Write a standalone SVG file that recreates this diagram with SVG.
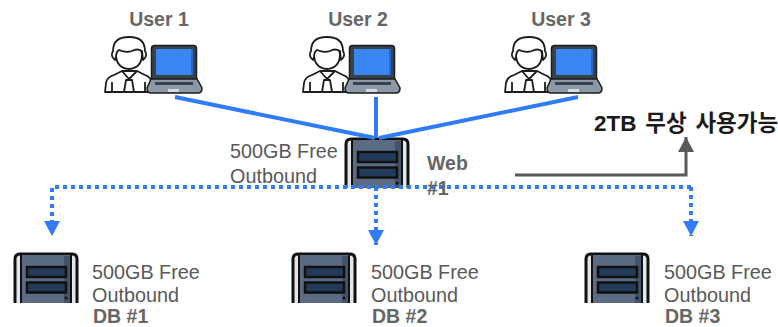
<svg xmlns="http://www.w3.org/2000/svg" width="778" height="327" viewBox="0 0 778 327">
<style>
.t{font-family:"Liberation Sans",Arial,sans-serif;font-size:19.8px;fill:#595959}
.b{font-family:"Liberation Sans",Arial,sans-serif;font-size:19.500px;font-weight:bold;fill:#666}
.k{font-family:"Liberation Sans","Noto Sans CJK KR",sans-serif;font-size:22.5px;font-weight:bold;fill:#1a1a1a;word-spacing:2.500px}
.solid{fill:none;stroke:#2f7bfa;stroke-width:4}
.dot{fill:none;stroke:#2f7bfa;stroke-width:4;stroke-dasharray:4 4}
.ol{stroke:#1c1c1c;stroke-width:1.8;stroke-linejoin:round}
</style>
<defs>
<marker id="blue" markerUnits="userSpaceOnUse" markerWidth="16" markerHeight="16" refX="15" refY="8" orient="auto"><path d="M0 0L15 8L0 16Z" fill="#2f7bfa"/></marker>
<marker id="gray" markerUnits="userSpaceOnUse" markerWidth="16" markerHeight="16" refX="15" refY="8" orient="auto"><path d="M0 0L15 8L0 16Z" fill="#595959"/></marker>
<symbol id="user" overflow="visible">
<path class="ol" d="M1 56L2 47Q3 41 10 39L18 35L33 35L41 39Q47 41 48 47L48 56Z" fill="#fff"/>
<path class="ol" d="M12 18Q12 32 25 33Q38 32 38 18Q38 10 25 10Q12 10 12 18Z" fill="#fff"/>
<path class="ol" d="M11 24Q6 20 9 15Q9 1 25 1Q41 1 41 15Q44 20 39 24L38 15Q33 12 28 15Q22 17 15 14Q12 16 12 21Z" fill="#fff"/>
<path class="ol" d="M18 35L25 43L33 35M22 44L28 44L30 56L20 56Z M8 46L8 56M41 46L41 56" fill="none"/>
<rect x="47.500" y="9.500" width="45" height="36" rx="3" fill="#38424e" stroke="#1c1c1c" stroke-width="1.500"/>
<rect x="52" y="13" width="37" height="26" fill="#3a86f2"/>
<rect x="87" y="13" width="2" height="26" fill="#2768c9"/>
<path d="M47 43L93 43L98 52Q98 57 94 57L47 57Q43 57 43 52Z" fill="#8d99a6" stroke="#1c1c1c" stroke-width="1.500"/>
<rect x="51" y="46" width="38" height="3" fill="#38424e"/>
<rect x="64" y="53" width="11" height="3" fill="#d5dae0"/>
</symbol>
<symbol id="server" overflow="visible">
<path d="M2 51L2 7Q2 2 7 2L59 2Q64 2 64 7L64 51" fill="#e3e6ea" stroke="#111" stroke-width="3"/>
<path d="M8 51L8 3L58 3L58 51Z" fill="#5a6b83"/>
<path d="M8 51L8 3M58 3L58 51" fill="none" stroke="#111" stroke-width="2"/>
<rect x="51" y="4" width="6" height="47" fill="#44536a"/>
<rect x="14" y="15" width="39" height="10" fill="#233a58" stroke="#111" stroke-width="2.500"/>
<rect x="14" y="30.500" width="39" height="10" fill="#233a58" stroke="#111" stroke-width="2.500"/>
<circle cx="53" cy="46" r="1.500" fill="#111"/>
</symbol>
</defs>

<g id="web1"><use href="#server" x="344" y="137"/></g>

<g id="connectors">
<path class="solid" d="M175 97L375 138"/>
<path class="solid" d="M376 97L376 138"/>
<path class="solid" d="M578 97L379 138"/>
<path class="dot" d="M691 187L52 187L52 236" marker-end="url(#blue)"/>
<path class="dot" d="M376 187L376 245" marker-end="url(#blue)"/>
<path class="dot" d="M691 187L691 236" marker-end="url(#blue)"/>
<path d="M515 175L686 175L686 137" fill="none" stroke="#595959" stroke-width="3" marker-end="url(#gray)"/>
</g>

<g id="user1"><text class="b" x="159" y="26" text-anchor="middle">User 1</text><use href="#user" x="104" y="36"/></g>
<g id="user2"><text class="b" x="358" y="26" text-anchor="middle">User 2</text><use href="#user" x="302" y="36"/></g>
<g id="user3"><text class="b" x="561" y="26" text-anchor="middle">User 3</text><use href="#user" x="504" y="36"/></g>

<g id="web1-labels">
<text class="t" x="230" y="158">500GB Free</text><text class="t" x="230" y="183">Outbound</text>
<text class="b" x="427" y="170">Web</text><text class="b" x="427" y="195">#1</text></g>

<g id="db1"><use href="#server" x="13" y="252"/>
<text class="t" x="92" y="279">500GB Free</text><text class="t" x="92" y="302">Outbound</text><text class="b" x="93" y="323">DB #1</text></g>
<g id="db2"><use href="#server" x="291" y="252"/>
<text class="t" x="371" y="279">500GB Free</text><text class="t" x="371" y="302">Outbound</text><text class="b" x="372" y="323">DB #2</text></g>
<g id="db3"><use href="#server" x="584" y="252"/>
<text class="t" x="664" y="279">500GB Free</text><text class="t" x="664" y="302">Outbound</text><text class="b" x="665" y="323">DB #3</text></g>

<text id="note" class="k" x="594" y="131">2TB 무상 사용가능</text>
</svg>
